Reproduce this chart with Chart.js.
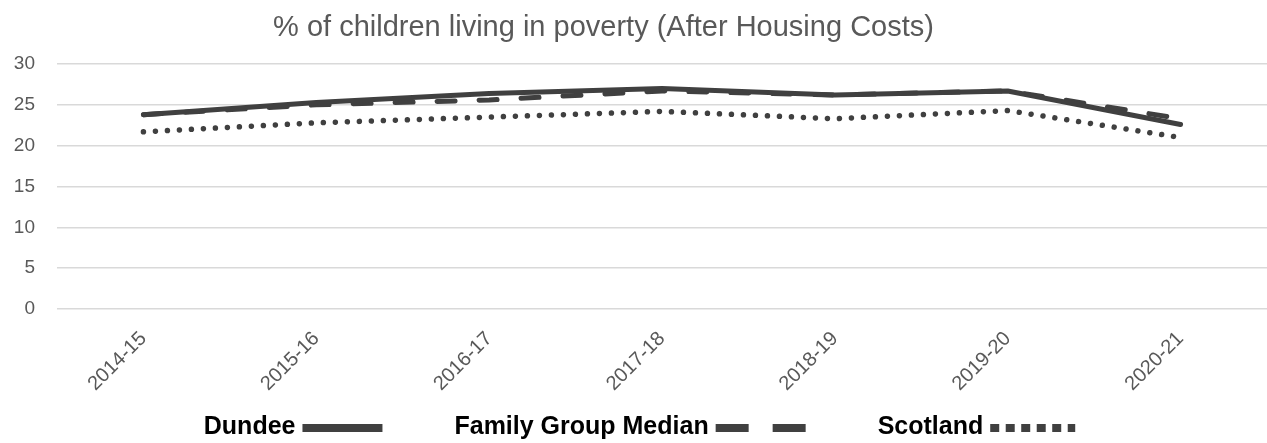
<!DOCTYPE html>
<html>
<head>
<meta charset="utf-8">
<script src="https://cdn.jsdelivr.net/npm/chart.js@4.4.1/dist/chart.umd.min.js"></script>
<style>
  html, body { margin: 0; padding: 0; background: #fff; }
  #wrap { width: 1267px; height: 443px; position: relative; }
</style>
</head>
<body>
<div id="wrap"><canvas id="chart"></canvas></div>
<script>
// values
var years = ["2014-15", "2015-16", "2016-17", "2017-18", "2018-19", "2019-20", "2020-21"];
var dundee = [23.8, 25.3, 26.4, 27.0, 26.2, 26.7, 22.6];
var familyGroup = [23.8, 25.0, 25.6, 26.7, 26.2, 26.7, 23.3];
var scotland = [21.7, 22.8, 23.5, 24.2, 23.3, 24.3, 21.0];
var yTicks = [0, 5, 10, 15, 20, 25, 30];

var titleText = "% of children living in poverty (After Housing Costs)";
var ink = "#404040";
var grey = "#595959";

// title and legend drawn by hand, Excel style (text first, line sample after)
var excelBits = {
	id: "excelBits",
	afterDraw: function (chart) {
		var ctx = chart.ctx;
		ctx.save();

		ctx.font = '29px "Liberation Sans", Arial, sans-serif';
		ctx.fillStyle = grey;
		ctx.textAlign = "center";
		ctx.textBaseline = "middle";
		ctx.fillText(titleText, chart.width / 2 - 30, 28);

		ctx.font = 'bold 25px "Liberation Sans", Arial, sans-serif';
		ctx.textAlign = "left";
		var sets = chart.data.datasets;
		var gapText = 7, gapItem = 72;
		var total = 0;
		sets.forEach(function (ds, i) {
			total += ctx.measureText(ds.label).width + gapText + ds.legendLen;
			if (i < sets.length - 1) total += gapItem;
		});
		var x = (chart.width - total) / 2 + 6;
		var y = 427;
		sets.forEach(function (ds) {
			ctx.fillStyle = "#000";
			ctx.fillText(ds.label, x, y);
			x += ctx.measureText(ds.label).width + gapText;
			ctx.beginPath();
			ctx.strokeStyle = ink;
			ctx.lineWidth = 8;
			ctx.lineCap = "butt";
			ctx.setLineDash(ds.legendDash);
			ctx.moveTo(x, y + 1);
			ctx.lineTo(x + ds.legendLen, y + 1);
			ctx.stroke();
			x += ds.legendLen + gapItem;
		});
		ctx.restore();
	}
};

var chart = new Chart(document.getElementById("chart"), {
	type: "line",
	data: {
		labels: years,
		datasets: [
			{
				label: "Dundee",
				data: dundee,
				borderColor: ink,
				borderWidth: 5,
				borderCapStyle: "round",
				borderJoinStyle: "round",
				legendDash: [],
				legendLen: 80
			},
			{
				label: "Family Group Median",
				data: familyGroup,
				borderColor: ink,
				borderWidth: 5,
				borderDash: [18, 24],
				borderCapStyle: "round",
				borderJoinStyle: "round",
				legendDash: [33, 24],
				legendLen: 90
			},
			{
				label: "Scotland",
				data: scotland,
				borderColor: ink,
				borderWidth: 5.5,
				borderDash: [0.01, 12],
				borderCapStyle: "round",
				borderJoinStyle: "round",
				legendDash: [9, 6.5],
				legendLen: 85
			}
		]
	},
	options: {
		responsive: true,
		maintainAspectRatio: false,
		animation: false,
		elements: {
			point: { radius: 0, hoverRadius: 0 },
			line: { tension: 0 }
		},
		layout: {
			padding: { top: 64, bottom: 44, left: 0, right: 0 }
		},
		plugins: {
			legend: { display: false },
			title: { display: false },
			tooltip: { enabled: false }
		},
		scales: {
			x: {
				offset: true,
				grid: { display: false },
				border: { display: false },
				ticks: {
					minRotation: 45,
					maxRotation: 45,
					padding: 10,
					color: grey,
					font: { family: '"Liberation Sans", Arial, sans-serif', size: 20 }
				},
				afterFit: function (scale) { scale.height = 90; }
			},
			y: {
				min: 0,
				max: 30,
				afterBuildTicks: function (scale) {
					scale.ticks = yTicks.map(function (v) { return { value: v }; });
				},
				grid: { color: "#d9d9d9", lineWidth: 1.5, drawTicks: false },
				border: { display: false },
				ticks: {
					padding: 22,
					color: grey,
					font: { family: '"Liberation Sans", Arial, sans-serif', size: 19 }
				},
				afterFit: function (scale) { scale.width = 57; }
			}
		}
	},
	plugins: [excelBits]
});
</script>
</body>
</html>
